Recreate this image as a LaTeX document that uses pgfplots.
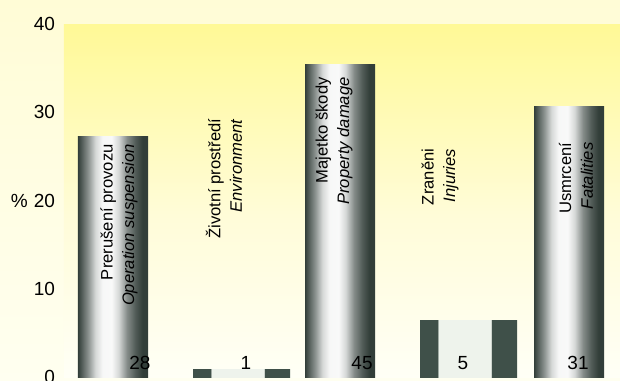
\documentclass[border=0pt]{standalone}
\usepackage{fontspec}
\setmainfont{Liberation Sans}
\usepackage{pgfplots}
\pgfplotsset{compat=1.18}
\definecolor{bgtop}{HTML}{FFFCD6}
\definecolor{bgbot}{HTML}{FFFFF0}
\definecolor{pltop}{HTML}{FFF996}
\definecolor{plmid}{HTML}{FFFCD8}
\definecolor{plbot}{HTML}{FFFFF6}
\definecolor{dk}{HTML}{323E39}
\definecolor{flatdk}{HTML}{3F5049}
\definecolor{flatlt}{HTML}{EEF3EC}
\pgfdeclarehorizontalshading{cyl}{100bp}{color(0bp)=(dk); color(25bp)=(dk); color(27.5bp)=(dk!85!white); color(32.5bp)=(dk!55!white); color(37.5bp)=(dk!20!white); color(42.5bp)=(dk!4!white); color(49bp)=(dk!3!white); color(54bp)=(dk!20!white); color(60bp)=(dk!60!white); color(66bp)=(dk!85!white); color(71bp)=(dk); color(100bp)=(dk)}
\pgfdeclarehorizontalshading{flat}{100bp}{color(0bp)=(flatdk); color(34bp)=(flatdk); color(34.5bp)=(flatlt); color(61.5bp)=(flatlt); color(62bp)=(flatdk); color(100bp)=(flatdk)}
\pgfdeclareverticalshading{plotbg}{100bp}{color(0bp)=(plbot); color(25bp)=(plbot); color(48bp)=(plmid); color(63bp)=(pltop!55!plmid); color(75bp)=(pltop); color(100bp)=(pltop)}
\begin{document}
\begin{tikzpicture}
\shade[top color=bgtop, bottom color=bgbot] (-32pt,-1.5pt) rectangle (278pt,188.5pt);
\begin{axis}[
  at={(0,0)}, anchor=south west,
  scale only axis, width=278pt, height=176.5pt,
  xmin=64, xmax=620, ymin=0, ymax=40,
  axis line style={draw=none},
  major tick length=0pt,
  xtick=\empty,
  ytick={0,10,20,30,40},
  yticklabels={0,10,{\%\hspace{3pt}20},30,40},
  yticklabel style={font=\fontsize{9.5}{11}\selectfont, xshift=-1pt},
  /pgf/number format/assume math mode=true,
  axis background/.style={shade, shading=plotbg},
  ybar,
]
\addplot[draw=none, shade, shading=cyl, bar shift=0pt, bar width=70] coordinates {(113,27.2)};
\addplot[draw=none, shade, shading=cyl, bar shift=0pt, bar width=70] coordinates {(340,35.4)};
\addplot[draw=none, shade, shading=cyl, bar shift=0pt, bar width=70] coordinates {(569,30.7)};
\addplot[draw=none, shade, shading=flat, bar shift=0pt, bar width=97] coordinates {(241.5,0.9)};
\addplot[draw=none, shade, shading=flat, bar shift=0pt, bar width=97] coordinates {(468.5,6.4)};
\tikzset{lbl/.style={rotate=90, anchor=east, align=right, font=\fontsize{8.3}{10.8}\selectfont, inner sep=0pt}}
\node[lbl] at (axis cs:119,26.4) {Prerušení provozu\\\textit{Operation suspension}};
\node[lbl] at (axis cs:224,29.3) {Životní prostředí\\\textit{Environment}};
\node[lbl] at (axis cs:334,34.0) {Majetko škody\\\textit{Property damage}};
\node[lbl] at (axis cs:440,25.9) {Zraněni\\\textit{Injuries}};
\node[lbl] at (axis cs:576,26.6) {Usmrcení\\\textit{Fatalities}};
\tikzset{num/.style={font=\fontsize{9.5}{11}\selectfont, inner sep=0pt}}
\node[num] at (axis cs:140,1.6) {28};
\node[num] at (axis cs:246,1.6) {1};
\node[num] at (axis cs:362,1.6) {45};
\node[num] at (axis cs:463,1.6) {5};
\node[num] at (axis cs:578,1.6) {31};
\end{axis}
\pgfresetboundingbox
\path (-32pt,-1.5pt) rectangle (278pt,188.5pt);
\end{tikzpicture}
\end{document}
